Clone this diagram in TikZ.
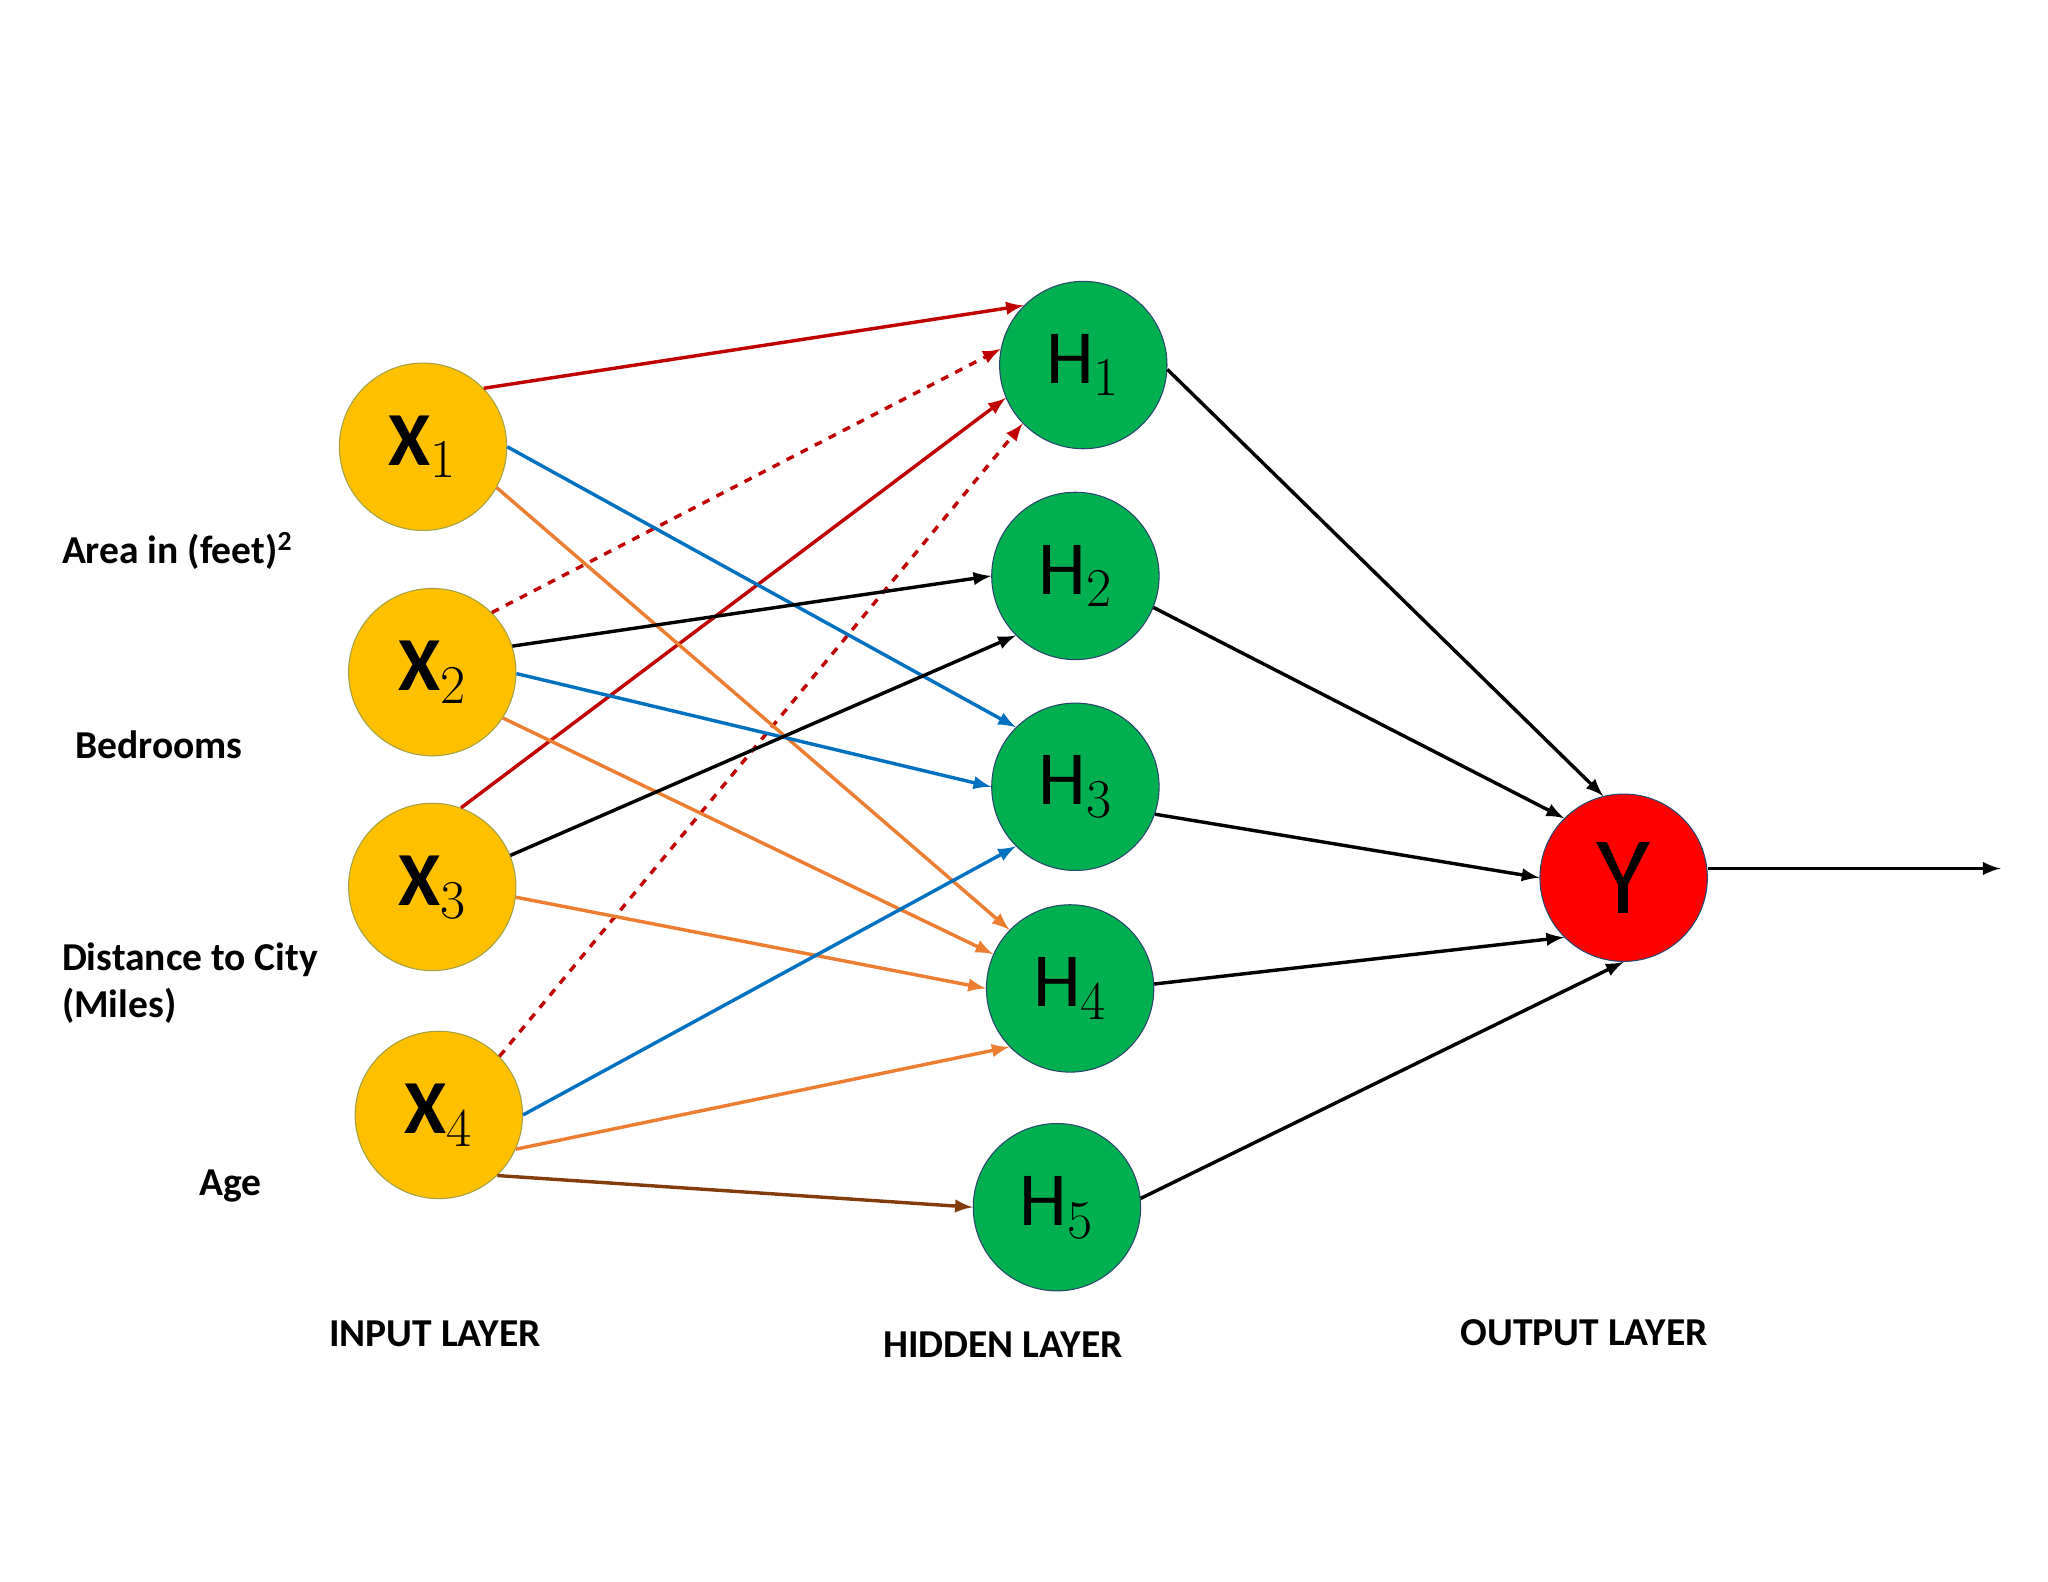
\documentclass[tikz,border=0pt]{standalone}
\usepackage{fontspec}
\setmainfont{Carlito}
\begin{document}
\begin{tikzpicture}[x=0.5pt,y=-0.5pt,
  inp/.style={circle,draw=yellow!60!black,fill={rgb,255:red,255;green,192;blue,0},minimum size=63.5pt,inner sep=0pt,font=\bfseries\fontsize{29}{30}\selectfont},
  hid/.style={circle,draw={rgb,255:red,40;green,70;blue,110},fill={rgb,255:red,0;green,176;blue,80},minimum size=63.5pt,inner sep=0pt,font=\fontsize{29}{30}\selectfont},
  outn/.style={circle,draw={rgb,255:red,40;green,70;blue,110},fill=red,minimum size=63.5pt,inner sep=0pt,font=\fontsize{42}{44}\selectfont},
  lab/.style={font=\bfseries\fontsize{15}{18}\selectfont,align=left},
  e/.style={-latex,line width=1.3pt},
  cr/.style={e,color={rgb,255:red,192;green,0;blue,0}},
  cb/.style={e,color={rgb,255:red,0;green,112;blue,192}},
  co/.style={e,color={rgb,255:red,237;green,125;blue,49}},
  cbr/.style={e,color={rgb,255:red,132;green,60;blue,12}},
  ck/.style={e,color=black}]
\useasboundingbox (0,0) rectangle (1554,1200);
\node[inp] (x1) at (321,339) {X$_1$};
\node[inp] (x2) at (328,510) {X$_2$};
\node[inp] (x3) at (328,673) {X$_3$};
\node[inp] (x4) at (333,846) {X$_4$};
\node[hid] (h1) at (822,277) {H$_1$};
\node[hid] (h2) at (816,437) {H$_2$};
\node[hid] (h3) at (816,597) {H$_3$};
\node[hid] (h4) at (812,750) {H$_4$};
\node[hid] (h5) at (802,916) {H$_5$};
\node[outn] (y) at (1232,666) {Y};
\coordinate (o) at (1518,659);

\draw[cr] (x1.44) -- (h1.135);
\draw[cr,dashed] (x2.45) -- (h1.169);
\draw[cr] (x3.70) -- (h1.203);
\draw[cr,dashed] (x4.44) -- (h1.224);
\draw[cb] (x1.0) -- (h3.135);
\draw[co] (x1.-29) -- (h4.136);
\draw[ck] (x2.18) -- (h2.180);
\draw[cb] (x2.-1) -- (h3.180);
\draw[co] (x2.-33) -- (h4.156);
\draw[ck] (x3.22) -- (h2.225);
\draw[co] (x3.-7) -- (h4.180);
\draw[cb] (x4.0) -- (h3.225);
\draw[co] (x4.-24) -- (h4.224);
\draw[cbr] (x4.-46) -- (h5.180);

\draw[ck] (h1.-3) -- (y.104);
\draw[ck] (h2.-22) -- (y.135);
\draw[ck] (h3.-19) -- (y.180);
\draw[ck] (h4.3) -- (y.225);
\draw[ck] (h5.6) -- (y.270);
\draw[ck] (y.east |- o) -- (o);

\node[lab,anchor=west] (l1) at (40,418) {Area in (feet)$^{\mathbf{2}}$};
\node[lab,anchor=west] (l2) at (50,565) {Bedrooms};
\node[lab,anchor=west] (l3) at (40,746) {Distance to City\\(Miles)};
\node[lab] (l4) at (175,900) {Age};
\node[lab] (t1) at (330,1012) {INPUT LAYER};
\node[lab] (t2) at (761,1020) {HIDDEN LAYER};
\node[lab] (t3) at (1202,1011) {OUTPUT LAYER};
\end{tikzpicture}
\end{document}
